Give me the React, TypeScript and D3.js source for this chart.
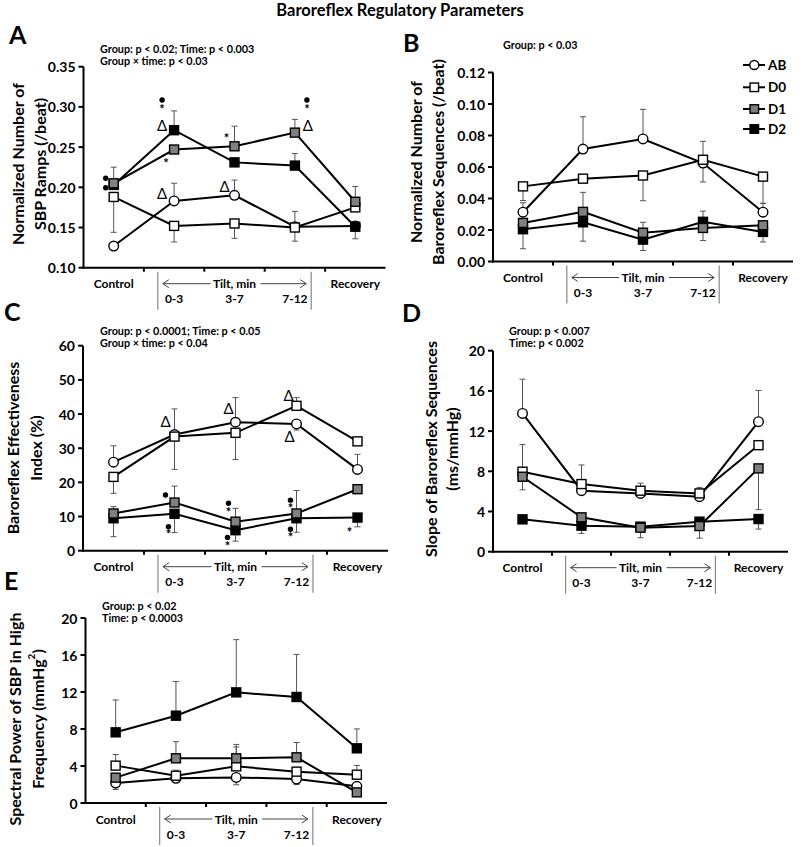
import React from "react";
import * as d3 from "d3";

const W = 807;
const H = 847;
const FONT = "Lato, 'Open Sans', 'DejaVu Sans', sans-serif";

const categories = ["Control", "0-3", "3-7", "7-12", "Recovery"];
const groups = ["AB", "D0", "D1", "D2"];

// ---------- Panel A: Normalized number of SBP ramps ----------
const rampsAB = [0.127, 0.183, 0.19, 0.151, 0.152];
const rampsD0 = [0.188, 0.152, 0.155, 0.15, 0.175];
const rampsD1 = [0.205, 0.247, 0.251, 0.268, 0.182];
const rampsD2 = [0.203, 0.271, 0.231, 0.227, 0.151];
const rampsErrAB = [0, 0.022, 0.019, 0.019, 0];
const rampsErrD0 = [-0.044, -0.02, -0.0185, -0.017, 0];
const rampsErrD1 = [0.02, 0, 0.025, 0.0165, 0.019];
const rampsErrD2 = [0, 0.024, 0, 0.015, -0.015];
const rampsTicks = [0.1, 0.15, 0.2, 0.25, 0.3, 0.35];
const rampsStats = ["Group: p < 0.02; Time: p < 0.003", "Group \u00d7 time: p < 0.03"];
const rampsMarks = [
  { cat: 0, dx: -8, v: 0.2112, s: "dot" },
  { cat: 0, dx: -8, v: 0.1995, s: "dot" },
  { cat: 1, dx: -12, v: 0.3085, s: "dot" },
  { cat: 1, dx: -12, v: 0.2985, s: "*" },
  { cat: 1, dx: -12, v: 0.2762, s: "\u0394" },
  { cat: 1, dx: -8, v: 0.2318, s: "*" },
  { cat: 1, dx: -12, v: 0.1917, s: "\u0394" },
  { cat: 2, dx: -8, v: 0.2622, s: "*" },
  { cat: 2, dx: -10, v: 0.2007, s: "\u0394" },
  { cat: 3, dx: 12, v: 0.3085, s: "dot" },
  { cat: 3, dx: 12, v: 0.2985, s: "*" },
  { cat: 3, dx: 13, v: 0.2758, s: "\u0394" },
];

// ---------- Panel B: Normalized number of baroreflex sequences ----------
const seqAB = [0.0313, 0.0714, 0.0778, 0.0625, 0.0313];
const seqD0 = [0.0477, 0.0526, 0.0546, 0.0646, 0.0539];
const seqD1 = [0.0245, 0.0315, 0.0183, 0.0213, 0.023];
const seqD2 = [0.0205, 0.0249, 0.0139, 0.0252, 0.0188];
const seqErrAB = [0.006, 0.0205, 0.0188, -0.012, 0.0056];
const seqErrD0 = [-0.009, 0, -0.016, 0.0117, -0.017];
const seqErrD1 = [0, 0.0124, 0.0066, -0.008, 0];
const seqErrD2 = [-0.0124, -0.012, -0.0069, 0.0068, -0.0064];
const seqTicks = [0, 0.02, 0.04, 0.06, 0.08, 0.1, 0.12];
const seqStats = ["Group: p < 0.03"];

// ---------- Panel C: Baroreflex effectiveness index ----------
const beiAB = [25.9, 34.0, 37.6, 37.1, 23.8];
const beiD0 = [21.6, 33.4, 34.5, 42.4, 32.0];
const beiD1 = [10.9, 14.1, 8.5, 10.9, 18.0];
const beiD2 = [9.5, 10.8, 6.0, 9.5, 9.7];
const beiErrAB = [4.8, 7.5, 7.2, -1.8, 4.4];
const beiErrD0 = [-4.8, -9.6, -7.8, 2.4, 0];
const beiErrD1 = [2.0, 4.8, 3.9, 6.7, 0];
const beiErrD2 = [-5.4, -5.5, -3.2, -4.1, -2.7];
const beiTicks = [0, 10, 20, 30, 40, 50, 60];
const beiStats = ["Group: p < 0.0001; Time: p < 0.05", "Group \u00d7 time: p < 0.04"];
const beiMarks = [
  { cat: 1, dx: -9, v: 37.6, s: "\u0394" },
  { cat: 1, dx: -9, v: 16.3, s: "dot" },
  { cat: 1, dx: -6, v: 7.0, s: "dot" },
  { cat: 1, dx: -6, v: 5.1, s: "*" },
  { cat: 2, dx: -7, v: 41.5, s: "\u0394" },
  { cat: 2, dx: -7, v: 13.9, s: "dot" },
  { cat: 2, dx: -7, v: 11.7, s: "*" },
  { cat: 2, dx: -8, v: 3.9, s: "dot" },
  { cat: 2, dx: -8, v: 1.7, s: "*" },
  { cat: 3, dx: -8, v: 45.4, s: "\u0394" },
  { cat: 3, dx: -7, v: 33.4, s: "\u0394" },
  { cat: 3, dx: -6, v: 14.8, s: "dot" },
  { cat: 3, dx: -6, v: 12.7, s: "*" },
  { cat: 3, dx: -6, v: 6.3, s: "dot" },
  { cat: 3, dx: -6, v: 4.3, s: "*" },
  { cat: 4, dx: -8, v: 5.8, s: "*" },
];

// ---------- Panel D: Slope of baroreflex sequences ----------
const slopeAB = [13.76, 6.07, 5.8, 5.47, 12.94];
const slopeD0 = [7.96, 6.73, 6.07, 5.8, 10.6];
const slopeD1 = [7.46, 3.42, 2.39, 2.55, 8.29];
const slopeD2 = [3.22, 2.59, 2.49, 2.99, 3.25];
const slopeErrAB = [3.4, 0, 0, 0, 3.1];
const slopeErrD0 = [2.7, 1.9, 0.75, 0.6, 0];
const slopeErrD1 = [-1.3, -1.6, -1.0, -1.2, -4.1];
const slopeErrD2 = [-0.3, 0, 0, 0, -1.0];
const slopeTicks = [0, 4, 8, 12, 16, 20];
const slopeStats = ["Group: p < 0.007", "Time: p < 0.002"];

// ---------- Panel E: Spectral power of SBP in HF ----------
const hfAB = [2.16, 2.67, 2.77, 2.59, 1.8];
const hfD0 = [4.04, 2.95, 3.96, 3.39, 3.06];
const hfD1 = [2.74, 4.83, 4.83, 4.94, 1.15];
const hfD2 = [7.64, 9.44, 11.96, 11.46, 5.91];
const hfErrAB = [-0.7, -0.4, -0.8, -0.6, 0];
const hfErrD0 = [1.2, 0.6, 2.1, 0, 1.0];
const hfErrD1 = [0, 1.8, 1.5, 1.6, 0];
const hfErrD2 = [3.5, 3.7, 5.7, 4.6, 2.1];
const hfTicks = [0, 4, 8, 12, 16, 20];
const hfStats = ["Group: p < 0.02", "Time: p < 0.0003"];

const fills: Record<string, string> = { AB: "#ffffff", D0: "#ffffff", D1: "#808080", D2: "#000000" };
const drawOrder = ["AB", "D0", "D2", "D1"];

type Mark = { cat: number; dx: number; v: number; s: string };
type Series = { name: string; values: number[]; errs: number[] };
type Cfg = {
  letter: string;
  letterX: number;
  letterY: number;
  x0: number;
  x1: number;
  yTop: number;
  yBot: number;
  ticks: number[];
  fmt: (v: number) => string;
  ylabel: React.ReactNode[];
  ylabelX: number[];
  ylabelCy: number;
  stats: string[];
  statsX: number;
  statsY: number;
  series: Series[];
  marks: Mark[];
};

function Marker({ name, x, y, s = 9 }: { name: string; x: number; y: number; s?: number }) {
  if (name === "AB") {
    return <circle cx={x} cy={y} r={s / 2 + 0.3} fill="#fff" stroke="#000" strokeWidth={1.4} />;
  }
  return (
    <rect x={x - s / 2} y={y - s / 2} width={s} height={s} fill={fills[name]} stroke="#000" strokeWidth={1.4} />
  );
}

function Panel({ cfg }: { cfg: Cfg }) {
  const lo = cfg.ticks[0];
  const hi = cfg.ticks[cfg.ticks.length - 1];
  const y = d3.scaleLinear().domain([lo, hi]).range([cfg.yBot, cfg.yTop]);
  const band = d3.scaleBand<string>().domain(categories).range([cfg.x0, cfg.x1]).padding(0);
  const bw = band.bandwidth();
  const cx = (i: number) => (band(categories[i]) as number) + bw / 2;
  const line = d3
    .line<number>()
    .x((_, i) => cx(i))
    .y((v) => y(v));
  const sep1 = (band(categories[1]) as number) + 0.23 * bw;
  const sep2 = (band(categories[3]) as number) + bw - 0.23 * bw;
  const tiltX = cx(2);
  const lblY = cfg.yBot + 20.5;
  const subY = cfg.yBot + 35.5;
  const arrowY = cfg.yBot + 16;
  const ordered = drawOrder.map((n) => cfg.series.find((s) => s.name === n)!);

  return (
    <g>
      <text x={cfg.letterX} y={cfg.letterY} fontSize={25} fontWeight={700}>
        {cfg.letter}
      </text>
      {cfg.stats.map((s, i) => (
        <text key={i} x={cfg.statsX} y={cfg.statsY + i * 12.2} fontSize={10.8} fontWeight={700}>
          {s}
        </text>
      ))}
      {cfg.ylabel.map((l, i) => (
        <text
          key={i}
          transform={`translate(${cfg.ylabelX[i]},${cfg.ylabelCy}) rotate(-90)`}
          textAnchor="middle"
          dominantBaseline="central"
          fontSize={16}
          fontWeight={700}
        >
          {l}
        </text>
      ))}
      {/* y axis */}
      <line x1={cfg.x0} x2={cfg.x0} y1={cfg.yTop} y2={cfg.yBot + 1} stroke="#000" strokeWidth={2} />
      {cfg.ticks.map((t) => (
        <g key={t}>
          <line x1={cfg.x0 - 5} x2={cfg.x0} y1={y(t)} y2={y(t)} stroke="#000" strokeWidth={2} />
          <text
            x={cfg.x0 - 8}
            y={y(t)}
            textAnchor="end"
            dominantBaseline="central"
            fontSize={14}
            fontWeight={700}
          >
            {cfg.fmt(t)}
          </text>
        </g>
      ))}
      {/* x axis */}
      <line x1={cfg.x0 - 1} x2={cfg.x1} y1={cfg.yBot} y2={cfg.yBot} stroke="#000" strokeWidth={2} />
      {categories.slice(1).map((c) => (
        <line
          key={c}
          x1={band(c) as number}
          x2={band(c) as number}
          y1={cfg.yBot}
          y2={cfg.yBot + 4}
          stroke="#000"
          strokeWidth={2}
        />
      ))}
      {/* category labels */}
      <text x={cx(0)} y={lblY} textAnchor="middle" fontSize={12} fontWeight={700}>
        {categories[0]}
      </text>
      <text x={cx(4)} y={lblY} textAnchor="middle" fontSize={12} fontWeight={700}>
        {categories[4]}
      </text>
      <text x={tiltX} y={lblY} textAnchor="middle" fontSize={12} fontWeight={700}>
        Tilt, min
      </text>
      {[1, 2, 3].map((i) => (
        <text key={i} x={cx(i)} y={subY} textAnchor="middle" fontSize={12} fontWeight={700}>
          {categories[i]}
        </text>
      ))}
      <line x1={sep1} x2={sep1} y1={cfg.yBot + 4} y2={cfg.yBot + 42} stroke="#888" strokeWidth={1.2} />
      <line x1={sep2} x2={sep2} y1={cfg.yBot + 4} y2={cfg.yBot + 42} stroke="#888" strokeWidth={1.2} />
      <g stroke="#444" strokeWidth={1} fill="none">
        <line x1={sep1 + 5} x2={tiltX - 24} y1={arrowY} y2={arrowY} />
        <polyline points={`${sep1 + 11},${arrowY - 4} ${sep1 + 5},${arrowY} ${sep1 + 11},${arrowY + 4}`} />
        <line x1={tiltX + 26} x2={sep2 - 5} y1={arrowY} y2={arrowY} />
        <polyline points={`${sep2 - 11},${arrowY - 4} ${sep2 - 5},${arrowY} ${sep2 - 11},${arrowY + 4}`} />
      </g>
      {/* error bars */}
      {cfg.series.map((s) =>
        s.values.map((v, i) =>
          s.errs[i] === 0 ? null : (
            <g key={s.name + i} stroke="#555" strokeWidth={1}>
              <line x1={cx(i)} x2={cx(i)} y1={y(v)} y2={y(v + s.errs[i])} />
              <line x1={cx(i) - 3} x2={cx(i) + 3} y1={y(v + s.errs[i])} y2={y(v + s.errs[i])} />
            </g>
          )
        )
      )}
      {/* series */}
      {ordered.map((s) => (
        <g key={s.name}>
          <path d={line(s.values) as string} fill="none" stroke="#000" strokeWidth={2} />
          {s.values.map((v, i) => (
            <Marker key={i} name={s.name} x={cx(i)} y={y(v)} />
          ))}
        </g>
      ))}
      {/* significance marks */}
      {cfg.marks.map((m, k) => {
        const px = cx(m.cat) + m.dx;
        const py = y(m.v);
        if (m.s === "dot") return <circle key={k} cx={px} cy={py} r={2.7} fill="#000" />;
        if (m.s === "*")
          return (
            <text key={k} x={px} y={py + 6} textAnchor="middle" fontSize={13} fontWeight={700}>
              *
            </text>
          );
        return (
          <text key={k} x={px} y={py + 5} textAnchor="middle" fontSize={15} fontWeight={400}>
            {m.s}
          </text>
        );
      })}
    </g>
  );
}

function mk(values: number[][], errs: number[][]): Series[] {
  return groups.map((g, i) => ({ name: g, values: values[i], errs: errs[i] }));
}

export default function App() {
  const f2 = d3.format(".2f");
  const fi = d3.format("d");
  const panels: Cfg[] = [
    {
      letter: "A",
      letterX: 9,
      letterY: 44,
      x0: 83.5,
      x1: 385.5,
      yTop: 66.7,
      yBot: 267.7,
      ticks: rampsTicks,
      fmt: f2,
      ylabel: ["Normalized Number of", "SBP Ramps (/beat)"],
      ylabelX: [17, 39],
      ylabelCy: 164,
      stats: rampsStats,
      statsX: 100,
      statsY: 52.5,
      series: mk([rampsAB, rampsD0, rampsD1, rampsD2], [rampsErrAB, rampsErrD0, rampsErrD1, rampsErrD2]),
      marks: rampsMarks,
    },
    {
      letter: "B",
      letterX: 403,
      letterY: 52,
      x0: 493,
      x1: 793,
      yTop: 72.5,
      yBot: 261.5,
      ticks: seqTicks,
      fmt: f2,
      ylabel: ["Normalized Number of", "Baroreflex Sequences (/beat)"],
      ylabelX: [415, 437],
      ylabelCy: 162,
      stats: seqStats,
      statsX: 503,
      statsY: 48.5,
      series: mk([seqAB, seqD0, seqD1, seqD2], [seqErrAB, seqErrD0, seqErrD1, seqErrD2]),
      marks: [],
    },
    {
      letter: "C",
      letterX: 4,
      letterY: 321,
      x0: 83,
      x1: 388,
      yTop: 345.7,
      yBot: 550.7,
      ticks: beiTicks,
      fmt: fi,
      ylabel: ["Baroreflex Effectiveness", "Index (%)"],
      ylabelX: [12, 35],
      ylabelCy: 448,
      stats: beiStats,
      statsX: 100,
      statsY: 334.5,
      series: mk([beiAB, beiD0, beiD1, beiD2], [beiErrAB, beiErrD0, beiErrD1, beiErrD2]),
      marks: beiMarks,
    },
    {
      letter: "D",
      letterX: 402,
      letterY: 321.5,
      x0: 493,
      x1: 788,
      yTop: 350.7,
      yBot: 551.7,
      ticks: slopeTicks,
      fmt: fi,
      ylabel: ["Slope of Baroreflex Sequences", "(ms/mmHg)"],
      ylabelX: [430, 451],
      ylabelCy: 449,
      stats: slopeStats,
      statsX: 509,
      statsY: 334.5,
      series: mk([slopeAB, slopeD0, slopeD1, slopeD2], [slopeErrAB, slopeErrD0, slopeErrD1, slopeErrD2]),
      marks: [],
    },
    {
      letter: "E",
      letterX: 4,
      letterY: 590,
      x0: 85.5,
      x1: 387,
      yTop: 618,
      yBot: 803,
      ticks: hfTicks,
      fmt: fi,
      ylabel: [
        "Spectral Power of SBP in High",
        <tspan key="f">
          Frequency (mmHg
          <tspan dy={-6} fontSize={10}>
            2
          </tspan>
          <tspan dy={6}>)</tspan>
        </tspan>,
      ],
      ylabelX: [14, 37],
      ylabelCy: 719,
      stats: hfStats,
      statsX: 102,
      statsY: 609.5,
      series: mk([hfAB, hfD0, hfD1, hfD2], [hfErrAB, hfErrD0, hfErrD1, hfErrD2]),
      marks: [],
    },
  ];

  const legendY = [65, 87.3, 109, 129];

  return (
    <svg
      width={W}
      height={H}
      viewBox={`0 0 ${W} ${H}`}
      style={{ position: "absolute", left: 0, top: 0, background: "#fff" }}
      fontFamily={FONT}
    >
      <rect width={W} height={H} fill="#fff" />
      <text x={400} y={16} textAnchor="middle" fontSize={16.5} fontWeight={700}>
        Baroreflex Regulatory Parameters
      </text>
      {panels.map((p) => (
        <Panel key={p.letter} cfg={p} />
      ))}
      {groups.map((g, i) => (
        <g key={g}>
          <line x1={743} x2={765} y1={legendY[i]} y2={legendY[i]} stroke="#000" strokeWidth={2} />
          <Marker name={g} x={754.3} y={legendY[i]} s={8.5} />
          <text x={768} y={legendY[i]} dominantBaseline="central" fontSize={13.5} fontWeight={700}>
            {g}
          </text>
        </g>
      ))}
    </svg>
  );
}
